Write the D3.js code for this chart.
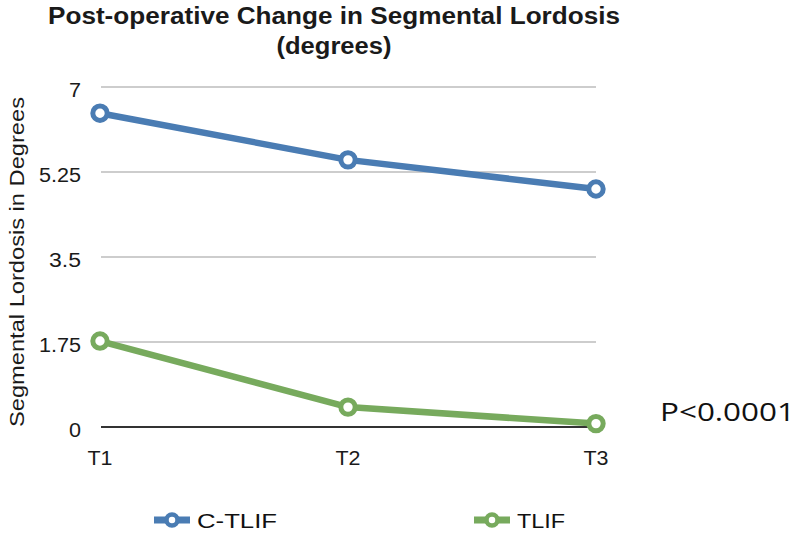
<!DOCTYPE html>
<html><head><meta charset="utf-8">
<script src="https://cdn.jsdelivr.net/npm/d3@7"></script>
<style>body{margin:0;background:#fff}svg{display:block}text{font-family:"Liberation Sans",Arial,sans-serif}</style>
</head><body>
<svg id="c" width="800" height="537"></svg>
<script>
const categories = ["T1","T2","T3"];
const ctlif = [6.46, 5.5, 4.9];
const tlif = [1.77, 0.41, 0.07];
const yTicks = [0, 1.75, 3.5, 5.25, 7];
const yTickLabels = ["0","1.75","3.5","5.25","7"];
const seriesNames = ["C-TLIF","TLIF"];
const colors = ["#4a7cb3","#77aa5d"];

const svg = d3.select("#c");
const x = d3.scalePoint().domain(categories).range([100, 596]);
const y = d3.scaleLinear().domain([0, 7]).range([427, 87]);

// gridlines
svg.append("g").selectAll("line").data(yTicks.filter(d=>d>0)).join("line")
  .attr("x1", 101).attr("x2", 596).attr("y1", d=>y(d)).attr("y2", d=>y(d))
  .attr("stroke", "#cdcdcd").attr("stroke-width", 1.8);
// zero axis
svg.append("line").attr("x1",101).attr("x2",596).attr("y1",y(0)).attr("y2",y(0))
  .attr("stroke","#333").attr("stroke-width",2);

// y tick labels
const tickLen = {"0":12,"1.75":42,"3.5":32,"5.25":42,"7":12};
svg.append("g").selectAll("text").data(yTicks).join("text")
  .attr("x", 81).attr("y", d=>y(d)+10).attr("text-anchor","end")
  .attr("font-size", 20).attr("fill","#1a1a1a")
  .attr("textLength",(d,i)=>tickLen[yTickLabels[i]]).attr("lengthAdjust","spacingAndGlyphs")
  .text((d,i)=>yTickLabels[i]);

// x labels
svg.append("g").selectAll("text").data(categories).join("text")
  .attr("x", d=>x(d)).attr("y", 465).attr("text-anchor","middle")
  .attr("font-size", 20).attr("fill","#1a1a1a")
  .attr("textLength",25).attr("lengthAdjust","spacingAndGlyphs").text(d=>d);

// y title
svg.append("text").attr("transform","translate(24,262) rotate(-90)")
  .attr("text-anchor","middle").attr("font-size",21).attr("fill","#1a1a1a")
  .attr("textLength", 330).attr("lengthAdjust","spacingAndGlyphs")
  .text("Segmental Lordosis in Degrees");

// title
svg.append("text").attr("x",334).attr("y",24).attr("text-anchor","middle")
  .attr("font-size",23).attr("font-weight","bold").attr("fill","#1a1a1a")
  .attr("textLength",572).attr("lengthAdjust","spacingAndGlyphs")
  .text("Post-operative Change in Segmental Lordosis");
svg.append("text").attr("x",334).attr("y",54).attr("text-anchor","middle")
  .attr("font-size",23).attr("font-weight","bold").attr("fill","#1a1a1a")
  .attr("textLength",115).attr("lengthAdjust","spacingAndGlyphs")
  .text("(degrees)");

const line = d3.line().x((d,i)=>x(categories[i])).y(d=>y(d));
[ctlif, tlif].forEach((s, k) => {
  svg.append("path").datum(s).attr("d", line).attr("fill","none")
    .attr("stroke", colors[k]).attr("stroke-width", 6.5).attr("stroke-linejoin","round");
  svg.append("g").selectAll("circle").data(s).join("circle")
    .attr("cx",(d,i)=>x(categories[i])).attr("cy",d=>y(d)).attr("r",7.2)
    .attr("fill","#fff").attr("stroke",colors[k]).attr("stroke-width",5);
});

// P value
svg.append("text").attr("x",660).attr("y",421).attr("font-size",25)
  .style("font-family","'Open Sans',sans-serif").attr("fill","#111")
  .attr("textLength",135).attr("lengthAdjust","spacingAndGlyphs")
  .text("P<0.0001");

// legend
const legX = [154, 474];
seriesNames.forEach((n,k)=>{
  const g = svg.append("g");
  g.append("line").attr("x1",legX[k]).attr("x2",legX[k]+36).attr("y1",520).attr("y2",520)
    .attr("stroke",colors[k]).attr("stroke-width",7);
  g.append("circle").attr("cx",legX[k]+18).attr("cy",520).attr("r",5.5)
    .attr("fill","#fff").attr("stroke",colors[k]).attr("stroke-width",4.5);
  g.append("text").attr("x",legX[k]+43).attr("y",528).attr("font-size",21).attr("fill","#111")
    .attr("textLength", n==="C-TLIF"?80:48).attr("lengthAdjust","spacingAndGlyphs").text(n);
});
</script>
</body></html>
